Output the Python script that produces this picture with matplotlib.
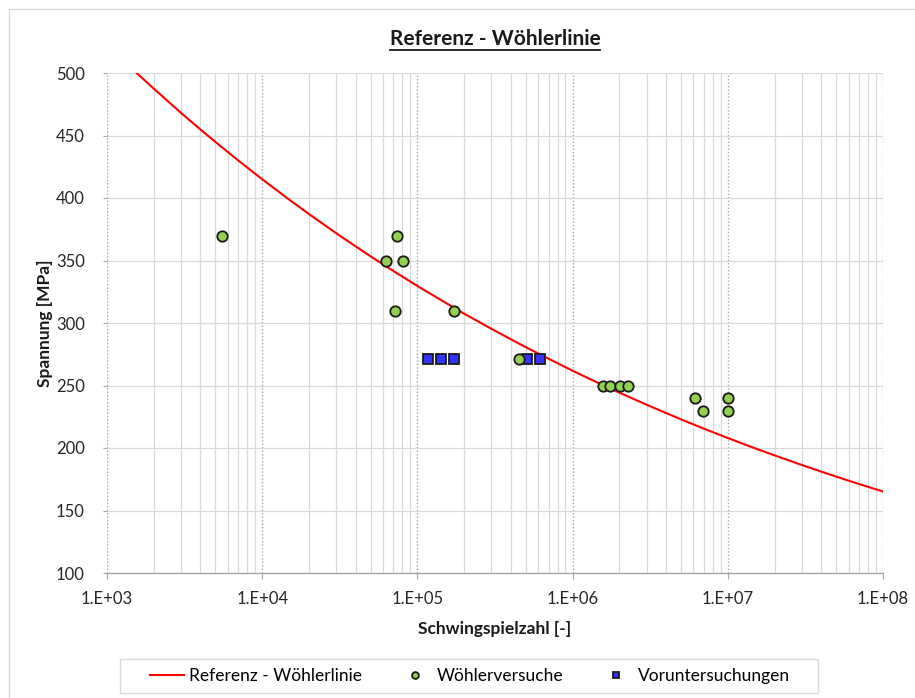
import numpy as np
import matplotlib
matplotlib.use("Agg")
import matplotlib.pyplot as plt
from matplotlib.ticker import FixedLocator, FuncFormatter, LogLocator, NullFormatter
from matplotlib.patches import Rectangle

# Reference Wöhler line
curve_n = [1.5e3, 2e3, 3e3, 4e3, 5e3, 7e3,
           1e4, 1.5e4, 2e4, 3e4, 4e4, 5e4, 7e4,
           1e5, 1.5e5, 2e5, 3e5, 4e5, 5e5, 7e5,
           1e6, 1.5e6, 2e6, 3e6, 4e6, 5e6, 7e6,
           1e7, 1.5e7, 2e7, 3e7, 4e7, 5e7, 7e7, 1e8]
curve_s = [501.7, 487.5, 468.1, 454.8, 444.8, 430.1,
           415.0, 398.5, 387.2, 371.8, 361.3, 353.3, 341.6,
           329.6, 316.6, 307.5, 295.3, 287.0, 280.6, 271.4,
           261.8, 251.4, 244.3, 234.6, 228.0, 222.9, 215.5,
           208.0, 199.7, 194.1, 186.4, 181.1, 177.1, 171.2, 165.2]

# Wöhler tests
test_n = [5.5e3, 7.4e4, 6.3e4, 8.1e4, 7.2e4, 1.72e5, 4.5e5,
          1.57e6, 1.74e6, 2.02e6, 2.28e6, 6.15e6, 6.9e6, 1.0e7, 1.0e7]
test_s = [370, 370, 350, 350, 310, 310, 271,
          250, 250, 250, 250, 240, 230, 240, 230]

# Preliminary tests
pre_n = [1.17e5, 1.42e5, 1.72e5, 5.1e5, 6.2e5]
pre_s = [271, 271, 271, 271, 271]

title = "Referenz - Wöhlerlinie"
xlabel = "Schwingspielzahl [-]"
ylabel = "Spannung [MPa]"
labels = ["Referenz - Wöhlerlinie", "Wöhlerversuche", "Voruntersuchungen"]

plt.rcParams['font.family'] = ['Lato', 'DejaVu Sans']

W, H = 915, 698
fig = plt.figure(figsize=(W / 100, H / 100), dpi=100)
ax = fig.add_axes([107 / W, 1 - 573 / H, (883 - 107) / W, (573 - 73) / H])

# outer frame
fig.patches.append(Rectangle((9 / W, -0.1), 1.2, 1 - 9 / H + 0.1, transform=fig.transFigure,
                             fill=False, edgecolor='#D9D9D9', linewidth=1.0))

ax.set_xscale('log')
ax.set_xlim(1e3, 1e8)
ax.set_ylim(100, 500)

l1, = ax.plot(curve_n, curve_s, color='#FF0000', linewidth=1.5, zorder=3)
l2, = ax.plot(test_n, test_s, linestyle='none', marker='o', markersize=7.5,
              markerfacecolor='#92D050', markeredgecolor='#1a1a1a', markeredgewidth=1.3, zorder=5)
l3, = ax.plot(pre_n, pre_s, linestyle='none', marker='s', markersize=7.5,
              markerfacecolor='#3333FF', markeredgecolor='#1a1a1a', markeredgewidth=1.3, zorder=4)

# grid
ax.xaxis.set_major_locator(FixedLocator([1e3, 1e4, 1e5, 1e6, 1e7, 1e8]))
ax.xaxis.set_minor_locator(LogLocator(base=10, subs=np.arange(2, 10), numticks=20))
ax.xaxis.set_minor_formatter(NullFormatter())
ax.xaxis.set_major_formatter(FuncFormatter(lambda x, p: "1.E+%02d" % int(round(np.log10(x)))))
ax.set_yticks(np.arange(100, 501, 50))

ax.grid(which='major', axis='x', color='#A6A6A6', linestyle=(0, (1, 1.5)), linewidth=1.0)
ax.grid(which='minor', axis='x', color='#D9D9D9', linestyle='-', linewidth=0.9)
ax.grid(which='major', axis='y', color='#D9D9D9', linestyle='-', linewidth=0.9)
ax.set_axisbelow(True)

for s in ['top', 'right', 'left']:
    ax.spines[s].set_visible(False)
ax.spines['bottom'].set_color('#A6A6A6')
ax.spines['bottom'].set_linewidth(1.0)

ax.tick_params(axis='x', which='major', length=4, color='#A6A6A6', labelsize=12, pad=9,
               labelcolor='#262626')
ax.tick_params(axis='x', which='minor', length=0)
ax.tick_params(axis='y', which='major', length=3, color='#A6A6A6', labelsize=12, pad=13,
               labelcolor='#262626')

ax.set_title(title, fontsize=15, fontweight='bold', pad=20, color='#1a1a1a')
# underline title
fig.canvas.draw()
t = ax.title
bb = t.get_window_extent(renderer=fig.canvas.get_renderer())
fig.add_artist(plt.Line2D([bb.x0 / W, bb.x1 / W], [(bb.y0 - 0.5) / H, (bb.y0 - 0.5) / H],
                          transform=fig.transFigure, color='#1a1a1a', linewidth=1.3))

ax.set_xlabel(xlabel, fontsize=12.5, fontweight='bold', labelpad=10, color='#1a1a1a')
ax.set_ylabel(ylabel, fontsize=12.5, fontweight='bold', labelpad=2, color='#1a1a1a')

# legend (frame drawn separately)
fig.patches.append(Rectangle((120 / W, 1 - 693 / H), (818 - 120) / W, 34 / H,
                             transform=fig.transFigure, fill=False,
                             edgecolor='#D9D9D9', linewidth=1.0))
leg = fig.legend([l1, l2, l3], labels, loc='center', ncol=3,
                 bbox_to_anchor=(470 / W, 1 - 676 / H), fontsize=12.5,
                 frameon=False, markerscale=0.65, handlelength=2.0,
                 columnspacing=2.0, handletextpad=0.3)

fig.savefig('out.png', dpi=100)
